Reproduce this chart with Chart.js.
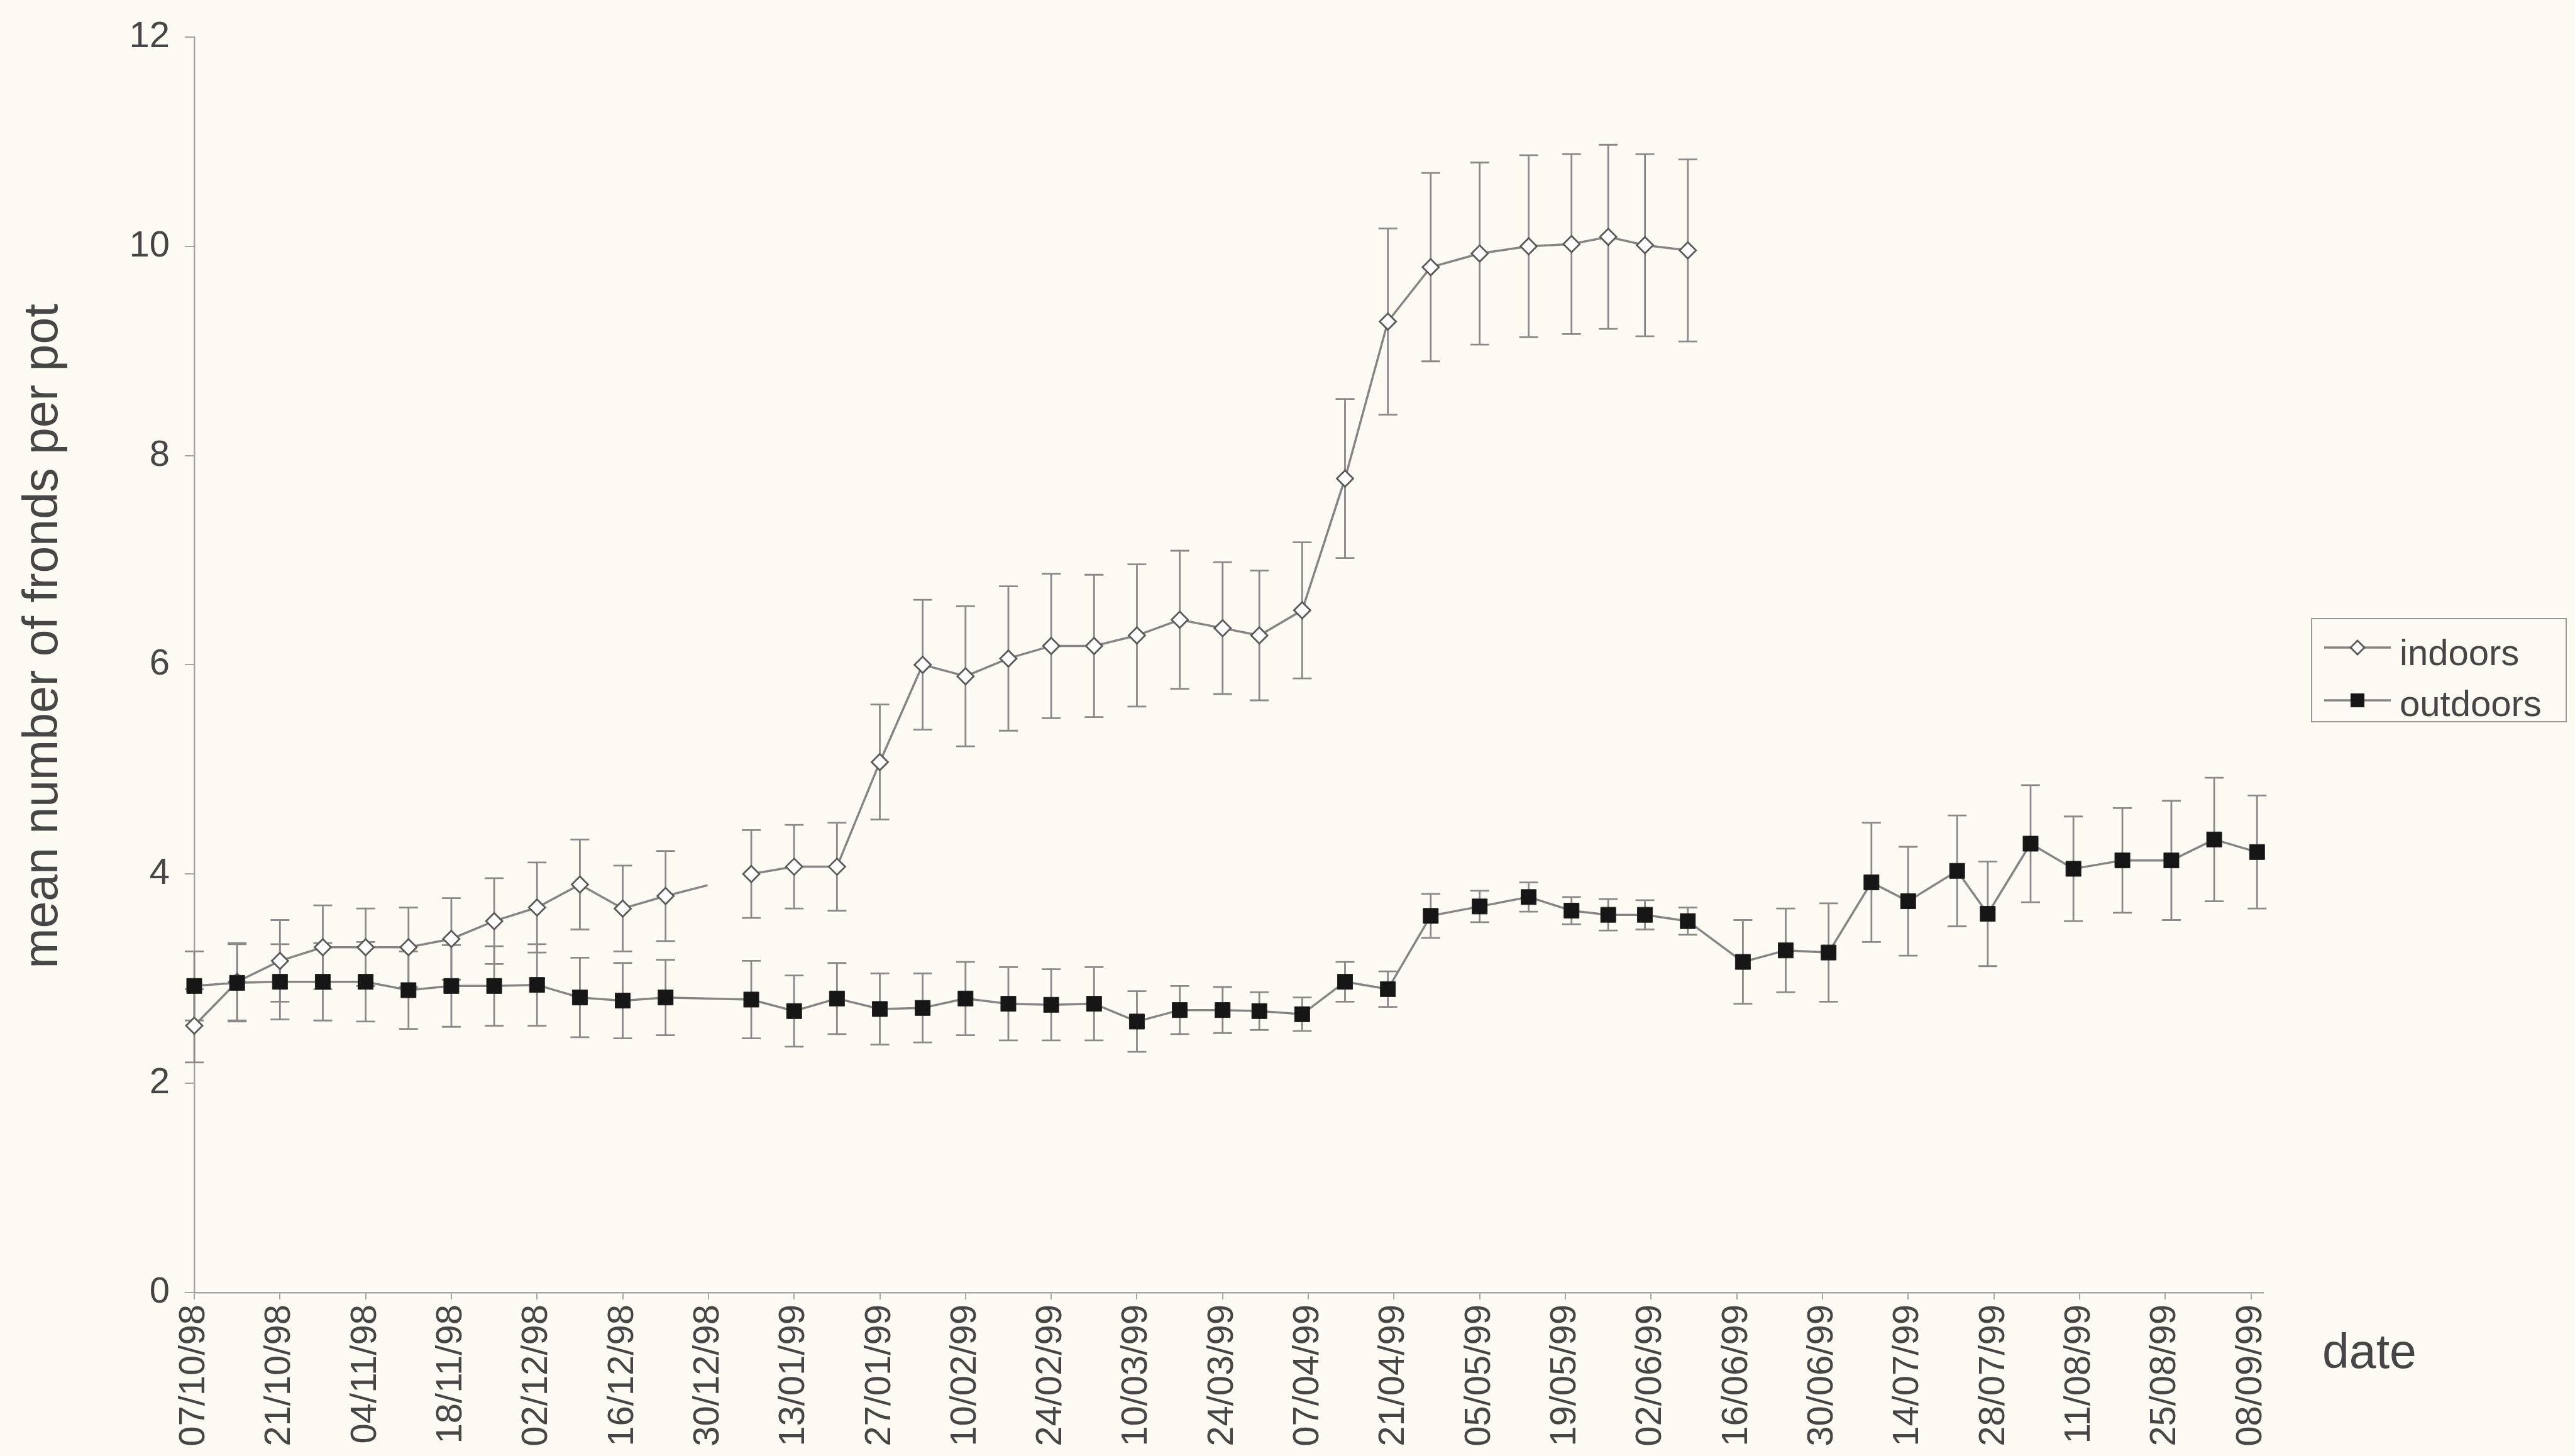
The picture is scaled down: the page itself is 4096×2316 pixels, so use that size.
<!DOCTYPE html>
<html>
<head>
<meta charset="utf-8">
<script src="https://cdn.jsdelivr.net/npm/chart.js@4.4.1/dist/chart.umd.min.js"></script>
<style>
  html, body { margin: 0; padding: 0; background: #fcfcf5; }
  canvas { display: block; }
</style>
</head>
<body>
<canvas id="fronds" width="4096" height="2316"></canvas>
<script>
// Sampling dates (dd/mm/yy)
const sampleDates = [
  '07/10/98','14/10/98','21/10/98','28/10/98','04/11/98','11/11/98','18/11/98','25/11/98',
  '02/12/98','09/12/98','16/12/98','23/12/98','06/01/99','13/01/99','20/01/99','27/01/99',
  '03/02/99','10/02/99','17/02/99','24/02/99','03/03/99','10/03/99','17/03/99','24/03/99',
  '30/03/99','06/04/99','13/04/99','20/04/99','27/04/99','05/05/99','13/05/99','20/05/99',
  '26/05/99','01/06/99','08/06/99','17/06/99','24/06/99','01/07/99','08/07/99','14/07/99',
  '22/07/99','27/07/99','03/08/99','10/08/99','18/08/99','26/08/99','02/09/99','09/09/99'
];

// Indoor pots: mean fronds per pot and standard error (first 35 dates)
const indoorMean = [
  2.55, 2.97, 3.17, 3.30, 3.30, 3.30, 3.38, 3.55, 3.68, 3.90, 3.67, 3.79,
  4.00, 4.07, 4.07, 5.07, 6.00, 5.89, 6.06, 6.18, 6.18, 6.28, 6.43, 6.35, 6.28, 6.52,
  7.78, 9.28, 9.80, 9.93, 10.00, 10.02, 10.09, 10.01, 9.96
];
const indoorSE = [
  0.35, 0.37, 0.39, 0.40, 0.37, 0.38, 0.39, 0.41, 0.43, 0.43, 0.41, 0.43,
  0.42, 0.40, 0.42, 0.55, 0.62, 0.67, 0.69, 0.69, 0.68, 0.68, 0.66, 0.63, 0.62, 0.65,
  0.76, 0.89, 0.90, 0.87, 0.87, 0.86, 0.88, 0.87, 0.87
];

// Outdoor pots: mean fronds per pot and standard error (all dates)
const outdoorMean = [
  2.93, 2.96, 2.97, 2.97, 2.97, 2.89, 2.93, 2.93, 2.94, 2.82, 2.79, 2.82,
  2.80, 2.69, 2.81, 2.71, 2.72, 2.81, 2.76, 2.75, 2.76, 2.59, 2.70, 2.70, 2.69, 2.66,
  2.97, 2.90, 3.60, 3.69, 3.78, 3.65, 3.61, 3.61, 3.55,
  3.16, 3.27, 3.25, 3.92, 3.74, 4.03, 3.62, 4.29, 4.05, 4.13, 4.13, 4.33, 4.21
];
const outdoorSE = [
  0.33, 0.37, 0.36, 0.37, 0.38, 0.37, 0.39, 0.38, 0.39, 0.38, 0.36, 0.36,
  0.37, 0.34, 0.34, 0.34, 0.33, 0.35, 0.35, 0.34, 0.35, 0.29, 0.23, 0.22, 0.18, 0.16,
  0.19, 0.17, 0.21, 0.15, 0.14, 0.13, 0.15, 0.14, 0.13,
  0.40, 0.40, 0.47, 0.57, 0.52, 0.53, 0.50, 0.56, 0.50, 0.50, 0.57, 0.59, 0.54
];

// Axis tick labels
const dateTicks = [
  '07/10/98','21/10/98','04/11/98','18/11/98','02/12/98','16/12/98','30/12/98',
  '13/01/99','27/01/99','10/02/99','24/02/99','10/03/99','24/03/99','07/04/99',
  '21/04/99','05/05/99','19/05/99','02/06/99','16/06/99','30/06/99','14/07/99',
  '28/07/99','11/08/99','25/08/99','08/09/99'
];
const yTicks = [0, 2, 4, 6, 8, 10, 12];

const seriesNames = ['indoors', 'outdoors'];
const yTitle = 'mean number of fronds per pot';
const xTitle = 'date';
const axisEndDate = '10/09/99';
const indoorBreakAfter = '23/12/98';   // the indoor trace is interrupted after this date

// ---- date helpers: dates are placed on a linear axis in days from the first sample
function dateMs(s) {
  const [d, m, y] = s.split('/').map(Number);
  return Date.UTC(y < 50 ? 2000 + y : 1900 + y, m - 1, d);
}
const originMs = dateMs(sampleDates[0]);
const toDay = s => Math.round((dateMs(s) - originMs) / 86400000);

const indoorPts = indoorMean.map((v, i) => ({ x: toDay(sampleDates[i]), y: v }));
const outdoorPts = outdoorMean.map((v, i) => ({ x: toDay(sampleDates[i]), y: v }));
const errorsByLabel = { indoors: indoorSE, outdoors: outdoorSE };
const breakIndex = sampleDates.indexOf(indoorBreakAfter);

// ---- styling
const FONT = '"Liberation Sans", Arial, Helvetica, sans-serif';
const BG = '#fcfcf5';
const TEXT = '#464646';
const AXIS = '#a6a6a6';
const TRACE = '#858585';
const ERR = '#8a8a8a';
const CAP = 15;

const background = {
  id: 'background',
  beforeDraw(chart) {
    const { ctx, width, height } = chart;
    ctx.save();
    ctx.fillStyle = BG;
    ctx.fillRect(0, 0, width, height);
    ctx.restore();
  }
};

// vertical SE bars with caps, drawn under the markers
const errorBars = {
  id: 'errorBars',
  beforeDatasetsDraw(chart) {
    const { ctx } = chart;
    const xs = chart.scales.x, ys = chart.scales.y;
    ctx.save();
    ctx.strokeStyle = ERR;
    ctx.lineWidth = 2.8;
    chart.data.datasets.forEach(ds => {
      const se = errorsByLabel[ds.label];
      if (!se) return;
      ds.data.forEach((p, j) => {
        const px = xs.getPixelForValue(p.x);
        const top = ys.getPixelForValue(p.y + se[j]);
        const bot = ys.getPixelForValue(p.y - se[j]);
        ctx.beginPath();
        ctx.moveTo(px, top); ctx.lineTo(px, bot);
        ctx.moveTo(px - CAP, top); ctx.lineTo(px + CAP, top);
        ctx.moveTo(px - CAP, bot); ctx.lineTo(px + CAP, bot);
        ctx.stroke();
      });
    });
    ctx.restore();
  }
};

function marker(ctx, ds, x, y) {
  ctx.save();
  ctx.fillStyle = ds.pointBackgroundColor;
  ctx.strokeStyle = ds.pointBorderColor;
  ctx.lineWidth = ds.pointBorderWidth;
  if (Chart.helpers && Chart.helpers.drawPoint) {
    Chart.helpers.drawPoint(ctx, {
      pointStyle: ds.pointStyle, rotation: 0,
      radius: ds.pointRadius, borderWidth: ds.pointBorderWidth
    }, x, y);
  }
  ctx.restore();
}

// axis titles and boxed legend
const annotations = {
  id: 'annotations',
  afterDraw(chart) {
    const { ctx, chartArea } = chart;
    ctx.save();
    ctx.fillStyle = TEXT;

    // y title
    ctx.save();
    ctx.translate(70, 1012);
    ctx.rotate(-Math.PI / 2);
    ctx.font = `77px ${FONT}`;
    ctx.textAlign = 'center';
    ctx.textBaseline = 'middle';
    ctx.fillText(yTitle, 0, 0);
    ctx.restore();

    // x title, to the right of the axis end
    ctx.font = `77px ${FONT}`;
    ctx.textAlign = 'left';
    ctx.textBaseline = 'alphabetic';
    ctx.fillText(xTitle, chartArea.right + 94, chartArea.bottom + 120);

    // legend
    const bx = chartArea.right + 77, by = 984, bw = 405, bh = 164;
    ctx.strokeStyle = '#9a9a9a';
    ctx.lineWidth = 2;
    ctx.strokeRect(bx, by, bw, bh);
    const rows = [{ line: 46, text: 74 }, { line: 130, text: 155 }];
    chart.data.datasets.forEach((ds, i) => {
      const r = rows[i];
      ctx.strokeStyle = ds.borderColor;
      ctx.lineWidth = ds.borderWidth;
      ctx.beginPath();
      ctx.moveTo(bx + 20, by + r.line);
      ctx.lineTo(bx + 126, by + r.line);
      ctx.stroke();
      marker(ctx, Object.assign({}, ds, { pointRadius: i === 0 ? 11 : 15 }), bx + 73, by + r.line);
      ctx.fillStyle = TEXT;
      ctx.font = `58px ${FONT}`;
      ctx.textAlign = 'left';
      ctx.textBaseline = 'alphabetic';
      ctx.fillText(ds.label, bx + 140, by + r.text);
    });
    ctx.restore();
  }
};

new Chart(document.getElementById('fronds'), {
  type: 'line',
  data: {
    datasets: [
      {
        label: seriesNames[0],
        data: indoorPts,
        borderColor: TRACE,
        borderWidth: 3.5,
        pointStyle: 'rectRot',
        pointRadius: 13,
        pointBackgroundColor: '#ffffff',
        pointBorderColor: '#5a5a5a',
        pointBorderWidth: 2.8,
        order: 2,
        clip: false,
        segment: {
          borderDash: c => c.p0DataIndex === breakIndex
            ? [Math.hypot(c.p1.x - c.p0.x, c.p1.y - c.p0.y) * 0.49, 100000]
            : undefined
        }
      },
      {
        label: seriesNames[1],
        data: outdoorPts,
        borderColor: TRACE,
        borderWidth: 3.5,
        pointStyle: 'rect',
        pointRadius: 17,
        pointBackgroundColor: '#161616',
        pointBorderColor: '#242424',
        pointBorderWidth: 1,
        order: 1,
        clip: false
      }
    ]
  },
  options: {
    responsive: false,
    animation: false,
    devicePixelRatio: 1,
    layout: { padding: { top: 46, right: 496, bottom: 0, left: 0 } },
    plugins: { legend: { display: false }, tooltip: { enabled: false } },
    scales: {
      x: {
        type: 'linear',
        min: 0,
        max: toDay(axisEndDate),
        afterBuildTicks: s => { s.ticks = dateTicks.map(d => ({ value: toDay(d) })); },
        afterFit: s => { s.height = 260; },
        ticks: {
          autoSkip: false,
          minRotation: 90,
          maxRotation: 90,
          padding: 8,
          color: TEXT,
          font: { family: FONT, size: 58 },
          callback: (v, i) => dateTicks[i]
        },
        grid: { drawOnChartArea: false, tickLength: 11, color: AXIS, lineWidth: 2 },
        border: { color: AXIS, width: 2.5 }
      },
      y: {
        min: 0,
        max: 12,
        afterBuildTicks: s => { s.ticks = yTicks.map(v => ({ value: v })); },
        afterFit: s => { s.width = 309; },
        ticks: {
          padding: 24,
          color: TEXT,
          font: { family: FONT, size: 58 },
          callback: v => String(v)
        },
        grid: { drawOnChartArea: false, tickLength: 15, color: AXIS, lineWidth: 2 },
        border: { color: AXIS, width: 2.5 }
      }
    }
  },
  plugins: [background, errorBars, annotations]
});
</script>
</body>
</html>
